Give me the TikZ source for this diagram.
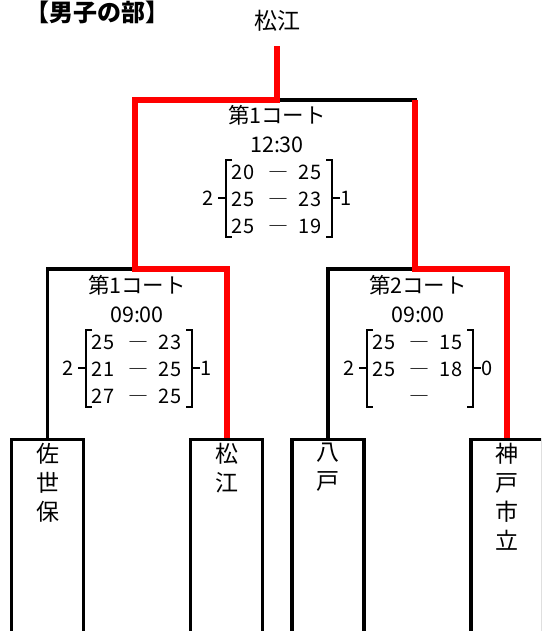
\documentclass[tikz,border=0pt]{standalone}
\usepackage{fontspec}
\newfontfamily\jp{Noto Sans CJK JP}
\usetikzlibrary{positioning}
\definecolor{winred}{HTML}{FF0000}
\tikzset{
  line/.style    ={draw=black, line width=3.2pt},
  winline/.style ={draw=winred, line width=6pt},
  team/.style    ={draw=black, line width=3.2pt, minimum width=72pt,
                   minimum height=240pt, anchor=north, inner sep=0pt},
  teamname/.style={font=\jp\fontsize{23}{29}\selectfont, align=center,
                   anchor=north, inner sep=0pt},
  court/.style   ={font=\jp\fontsize{21.5}{24}\selectfont, inner sep=0pt},
  pt/.style      ={font=\jp\fontsize{20}{22}\selectfont, inner sep=0pt, anchor=base},
  brace/.style   ={draw=black, line width=2pt},
}
% score brackets round the three set rows of one match
\newcommand{\setbrackets}{%
  \draw[brace] (-45,45) -- (-51,45) -- (-51,122) -- (-45,122);
  \draw[brace] (-51,83) -- (-59,83);
  \draw[brace] (49,45) -- (55,45) -- (55,122) -- (49,122);
  \draw[brace] (55,83) -- (63,83);}

\begin{document}
\begin{tikzpicture}[x=1pt,y=-1pt]
  \useasboundingbox (0,0) rectangle (541,631);
  \clip (0,0) rectangle (541,631);
  \node[font=\jp\bfseries\fontsize{24}{26}\selectfont, inner sep=0pt, anchor=north] (title) at (97,1) {【男子の部】};
  \node[teamname, anchor=center] (champ) at (277,21) {松江};
  \coordinate (top) at (277,46);

  % teams
  \node[team] (sasebo) at (47.5,438) {};
  \node[team] (matsue) at (226.5,438) {};
  \node[team] (hachi)  at (328,438) {};
  \node[team] (kobe)   at (507,438) {};
  \node[teamname, below=5pt of sasebo.north] (n1) {佐\\世\\保};
  \node[teamname, below=5pt of matsue.north] (n2) {松\\江};
  \node[teamname, below=5pt of hachi.north]  (n3) {八\\戸};
  \node[teamname, below=5pt of kobe.north]   (n4) {神\\戸\\市\\立};

  % bracket joints
  \coordinate (sf1) at (135,269);
  \coordinate (sf2) at (415,269);
  \coordinate (fin) at (277,100);
  \draw[line] (sasebo.north) |- (sf1);
  \draw[line] (hachi.north) |- (sf2);
  \draw[line] (fin) -| (sf2);
  \draw[winline] (matsue.north) |- (sf1) |- (fin) -- (top);
  \draw[winline] (kobe.north) |- (sf2) -- (sf2 |- fin);

  % final
  \begin{scope}[shift={(277,115)}]
    \node[court] (c0) at (0,0)  {第1コート};
    \node[court] (h0) at (0,30) {12:30};
    \foreach \a/\b [count=\i] in {20/25,25/23,25/19} {
      \node[pt] (l0\i) at (-34,37+27*\i) {\a};
      \node[pt] (d0\i) at (1,37+27*\i)   {―};
      \node[pt] (r0\i) at (33,37+27*\i)  {\b};
    }
    \setbrackets
    \node[pt] (w0) at (-69,90) {2};
    \node[pt] (v0) at (69,90)  {1};
  \end{scope}

  % semi-final 1
  \begin{scope}[shift={(137,285)}]
    \node[court] (c1) at (0,0)  {第1コート};
    \node[court] (h1) at (0,30) {09:00};
    \foreach \a/\b [count=\i] in {25/23,21/25,27/25} {
      \node[pt] (l1\i) at (-34,37+27*\i) {\a};
      \node[pt] (d1\i) at (1,37+27*\i)   {―};
      \node[pt] (r1\i) at (33,37+27*\i)  {\b};
    }
    \setbrackets
    \node[pt] (w1) at (-69,90) {2};
    \node[pt] (v1) at (69,90)  {1};
  \end{scope}

  % semi-final 2
  \begin{scope}[shift={(418,285)}]
    \node[court] (c2) at (0,0)  {第2コート};
    \node[court] (h2) at (0,30) {09:00};
    \foreach \a/\b [count=\i] in {25/15,25/18} {
      \node[pt] (l2\i) at (-34,37+27*\i) {\a};
      \node[pt] (d2\i) at (1,37+27*\i)   {―};
      \node[pt] (r2\i) at (33,37+27*\i)  {\b};
    }
    \node[pt] (d23) at (1,118) {―};
    \setbrackets
    \node[pt] (w2) at (-69,90) {2};
    \node[pt] (v2) at (69,90)  {0};
  \end{scope}
\end{tikzpicture}
\end{document}
